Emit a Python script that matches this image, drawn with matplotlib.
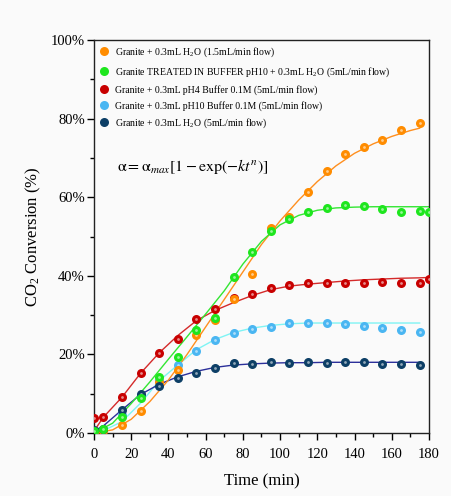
import numpy as np
import matplotlib
matplotlib.use('Agg')
import matplotlib.pyplot as plt
from matplotlib.ticker import MultipleLocator, PercentFormatter

plt.rcParams['font.family'] = ['Liberation Serif', 'DejaVu Serif']
plt.rcParams['mathtext.fontset'] = 'custom'
plt.rcParams['mathtext.rm'] = 'Liberation Serif'
plt.rcParams['mathtext.it'] = 'Liberation Serif:italic'

# measured points (time in min, conversion in %)
t_pts = [0, 5, 15, 25, 35, 45, 55, 65, 75, 85, 95, 105, 115, 125, 135, 145, 155, 165, 175]
t_pts180 = t_pts + [180]

orange_pts = [0.3, 0.5, 2.0, 5.7, 13.1, 16.0, 24.9, 28.8, 34.1, 40.5, 52.1, 55.0, 61.3, 66.7, 70.9, 72.7, 74.6, 77.1, 79.0]
green_pts = [0.5, 0.9, 4.0, 8.8, 14.3, 19.4, 26.2, 29.2, 39.7, 46.2, 51.4, 54.6, 56.2, 57.2, 58.0, 57.8, 56.9, 56.3, 56.4, 56.2]
red_pts = [3.7, 4.0, 9.1, 15.2, 20.4, 23.9, 29.0, 31.6, 34.3, 35.3, 37.0, 37.6, 38.2, 38.2, 38.1, 38.3, 38.4, 38.3, 38.3, 39.2]
cyan_pts = [0.5, 0.7, 4.5, 9.5, 13.5, 17.3, 20.9, 23.7, 25.4, 26.5, 27.1, 27.9, 28.0, 27.9, 27.7, 27.2, 26.8, 26.2, 25.8]
navy_pts = [0.8, 0.9, 5.9, 9.9, 12.0, 13.9, 15.4, 16.5, 17.9, 17.6, 18.1, 17.9, 18.1, 17.7, 18.1, 18.0, 17.6, 17.6, 17.3]

# fitted curves
t_fit = [0, 10, 20, 30, 40, 50, 60, 70, 80, 90, 100, 110, 120, 130, 140, 150, 160, 170, 175]
orange_fit = [0, 0.8, 3.5, 8.0, 13.5, 20.0, 27.0, 34.0, 41.0, 48.0, 54.0, 59.3, 64.0, 68.0, 71.2, 73.6, 75.5, 77.0, 77.6]
t_fit2 = [0, 10, 20, 30, 40, 50, 60, 70, 80, 90, 100, 110, 120, 130, 140, 150, 160, 170, 180]
green_fit = [0, 2.5, 7.5, 13.0, 18.8, 24.5, 30.3, 36.2, 43.0, 48.8, 53.0, 55.4, 56.7, 57.3, 57.5, 57.6, 57.6, 57.6, 57.6]
t_red = [0, 5, 15, 25, 35, 45, 55, 65, 75, 85, 95, 105, 115, 125, 135, 145, 155, 165, 175, 180]
red_fit = [0.5, 4.0, 9.1, 15.2, 20.4, 24.8, 28.6, 31.2, 33.2, 35.0, 36.5, 37.4, 37.9, 38.3, 38.7, 39.0, 39.2, 39.4, 39.5, 39.6]
t_cyan = [0, 5, 15, 25, 35, 45, 55, 65, 75, 85, 95, 105, 115, 125, 135, 145, 155, 165, 175]
cyan_fit = [0, 0.6, 2.9, 7.6, 13.3, 17.3, 21.2, 23.8, 25.6, 26.7, 27.4, 27.8, 28.0, 28.0, 28.0, 28.0, 28.0, 28.0, 28.0]
navy_fit = [0.5, 1.8, 5.9, 9.8, 12.4, 14.3, 15.7, 16.7, 17.3, 17.6, 17.8, 17.9, 17.9, 18.0, 18.0, 18.0, 18.0, 18.0, 18.0]

labels = [
    r'Granite + 0.3mL H$_2$O (1.5mL/min flow)',
    r'Granite TREATED IN BUFFER pH10 + 0.3mL H$_2$O (5mL/min flow)',
    'Granite + 0.3mL pH4 Buffer 0.1M (5mL/min flow)',
    'Granite + 0.3mL pH10 Buffer 0.1M (5mL/min flow)',
    r'Granite + 0.3mL H$_2$O (5mL/min flow)',
]

fig = plt.figure(figsize=(4.52, 4.96), dpi=100)
fig.patch.set_facecolor('#fafafa')
ax = fig.add_axes([0.208, 0.127, 0.741, 0.792])
ax.set_facecolor('#fafafa')

ms = 6.5
# lines first
ax.plot(t_cyan, cyan_fit, color='#7ff4f4', lw=1.0, zorder=1)
ax.plot(t_cyan, navy_fit, color='#2b2f9a', lw=1.0, zorder=1)
ax.plot(t_red, red_fit, color='#d42a2a', lw=1.0, zorder=1)
ax.plot(t_fit, orange_fit, color='#ff8f1f', lw=1.0, zorder=1)
ax.plot(t_fit2, green_fit, color='#33e633', lw=1.0, zorder=1)

h_cyan, = ax.plot(t_pts, cyan_pts, 'o', color='#4ab6f2', ms=ms, mec='none', zorder=2)
h_red, = ax.plot(t_pts180, red_pts, 'o', color='#c80000', ms=ms, mec='none', zorder=3)
h_orange, = ax.plot(t_pts, orange_pts, 'o', color='#ff8c00', ms=ms, mec='none', zorder=4)
h_navy, = ax.plot(t_pts, navy_pts, 'o', color='#0d3f66', ms=ms, mec='none', zorder=5)
h_green, = ax.plot(t_pts180, green_pts, 'o', color='#1ee61e', ms=ms, mec='none', zorder=6)

# small highlight on the spheres
for tt, vv, z in [(t_pts, cyan_pts, 2), (t_pts180, red_pts, 3), (t_pts, orange_pts, 4),
                  (t_pts, navy_pts, 5), (t_pts180, green_pts, 6)]:
    ax.plot(tt, vv, 'o', color='white', alpha=0.55, ms=2.0, mec='none', zorder=z + 0.5)

ax.set_xlim(0, 180)
ax.set_ylim(0, 100)
ax.xaxis.set_major_locator(MultipleLocator(20))
ax.xaxis.set_minor_locator(MultipleLocator(10))
ax.yaxis.set_major_locator(MultipleLocator(20))
ax.yaxis.set_minor_locator(MultipleLocator(10))
ax.yaxis.set_major_formatter(PercentFormatter(decimals=0))
ax.tick_params(which='both', direction='out', top=False, right=False, labelsize=10.5)
ax.tick_params(which='major', length=5, width=1)
ax.tick_params(which='minor', length=3, width=1)
ax.tick_params(axis='y', pad=1.5)
ax.tick_params(axis='x', pad=6)
for s in ax.spines.values():
    s.set_linewidth(1.0)
    s.set_color('#222222')

ax.set_xlabel('Time (min)', fontsize=12, labelpad=9)
ax.set_ylabel(r'CO$_2$ Conversion (%)', fontsize=12, labelpad=6)

ax.text(0.07, 0.668, r'$\mathrm{\alpha} = \mathrm{\alpha}_{max}[1 - \mathrm{exp}(-kt^{n})]$',
        transform=ax.transAxes, fontsize=11.5, math_fontfamily='stix')

leg = ax.legend([h_orange, h_green, h_red, h_cyan, h_navy], labels, loc='upper left',
                frameon=False, fontsize=7, handletextpad=0.6, labelspacing=0.62,
                borderaxespad=0.15, handlelength=1.0)

fig.savefig('out.png', dpi=100, facecolor=fig.get_facecolor())
